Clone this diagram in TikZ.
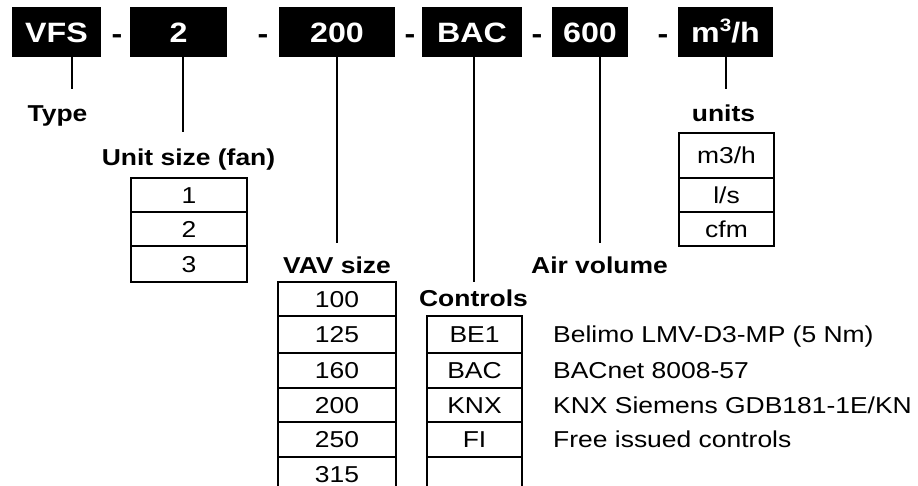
\documentclass[tikz,border=0pt]{standalone}
\usepackage{fontspec}
\setmainfont{Liberation Sans}[FakeStretch=1.15]
\begin{document}
\begin{tikzpicture}[x=1pt,y=-1pt,
  topbox/.style={fill=black,text=white,font=\fontsize{28}{30}\selectfont\bfseries,
    minimum height=50pt,inner sep=0pt,text height=22pt,text depth=0pt},
  dashlbl/.style={font=\fontsize{28}{30}\selectfont\bfseries,inner sep=0pt,anchor=base},
  lbl/.style={font=\fontsize{23}{26}\selectfont\bfseries,inner sep=0pt,anchor=base},
  cell/.style={draw,line width=1.7pt,font=\fontsize{23}{26}\selectfont,inner sep=0pt,
    text height=16.5pt,text depth=0pt},
  desc/.style={font=\fontsize{23}{26}\selectfont,anchor=west,inner sep=0pt,
    text height=16.5pt,text depth=0pt},
  conn/.style={line width=1.8pt}]
\useasboundingbox (0,0) rectangle (918,486);
\clip (0,0) rectangle (918,486);

% top code boxes
\node[topbox,minimum width=89pt]  (vfs)  at (56.5,32) {VFS};
\node[topbox,minimum width=97pt]  (b2)   at (178.5,32) {2};
\node[topbox,minimum width=116pt] (b200) at (337,32) {200};
\node[topbox,minimum width=100pt] (bac)  at (472,32) {BAC};
\node[topbox,minimum width=76pt]  (b600) at (590,32) {600};
\node[topbox,minimum width=95pt]  (unit) at (725.5,32) {m\raisebox{0.42em}{\fontsize{18}{18}\selectfont 3}/h};

\node[dashlbl] (d1) at (117,44) {-};
\node[dashlbl] (d2) at (263,44) {-};
\node[dashlbl] (d3) at (410,44) {-};
\node[dashlbl] (d4) at (537,44) {-};
\node[dashlbl] (d5) at (663,44) {-};

% labels
\node[lbl] (ltype)  at (57.5,121.5) {Type};
\node[lbl] (lunit)  at (188.5,166) {Unit size (fan)};
\node[lbl] (lvav)   at (337,273) {VAV size};
\node[lbl] (lctrl)  at (473.5,306.5) {Controls};
\node[lbl] (lair)   at (599.5,273) {Air volume};
\node[lbl] (lunits) at (723.5,121.5) {units};

% connectors
\coordinate (e1) at (72,89);
\coordinate (e2) at (183,132);
\coordinate (e3) at (337,243);
\coordinate (e4) at (474,282);
\coordinate (e5) at (600,243);
\coordinate (e6) at (726,89);
\draw[conn] (vfs.south -| e1) -- (e1);
\draw[conn] (b2.south -| e2) -- (e2);
\draw[conn] (b200.south -| e3) -- (e3);
\draw[conn] (bac.south -| e4) -- (e4);
\draw[conn] (b600.south -| e5) -- (e5);
\draw[conn] (unit.south -| e6) -- (e6);

% unit size table
\begin{scope}[every node/.style={cell,minimum width=116pt}]
\node[minimum height=34pt] (u1) at (189,195) {1};
\node[minimum height=34pt] (u2) at (189,229) {2};
\node[minimum height=36pt] (u3) at (189,264) {3};
\end{scope}

% units table
\begin{scope}[every node/.style={cell,minimum width=95pt}]
\node[minimum height=45pt] (n1) at (726.5,155.5) {m3/h};
\node[minimum height=34pt] (n2) at (726.5,195) {l/s};
\node[minimum height=34pt] (n3) at (726.5,229) {cfm};
\end{scope}

% VAV size table
\begin{scope}[every node/.style={cell,minimum width=118pt}]
\node[minimum height=34pt] (v1) at (337,299) {100};
\node[minimum height=37pt] (v2) at (337,334.5) {125};
\node[minimum height=35pt] (v3) at (337,370.5) {160};
\node[minimum height=34pt] (v4) at (337,405) {200};
\node[minimum height=35pt] (v5) at (337,439.5) {250};
\node[minimum height=35pt] (v6) at (337,474.5) {315};
\end{scope}

% controls table
\begin{scope}[every node/.style={cell,minimum width=95pt}]
\node[minimum height=37pt] (k1) at (474.5,334.5) {BE1};
\node[minimum height=35pt] (k2) at (474.5,370.5) {BAC};
\node[minimum height=34pt] (k3) at (474.5,405) {KNX};
\node[minimum height=35pt] (k4) at (474.5,439.5) {FI};
\node[minimum height=35pt] (k5) at (474.5,474.5) {};
\end{scope}

% descriptions
\node[desc] (t1) at (553,334.5) {Belimo LMV-D3-MP (5 Nm)};
\node[desc] (t2) at (553,370.5) {BACnet 8008-57};
\node[desc] (t3) at (553,405) {KNX Siemens GDB181-1E/KN};
\node[desc] (t4) at (553,439.5) {Free issued controls};
\end{tikzpicture}
\end{document}
